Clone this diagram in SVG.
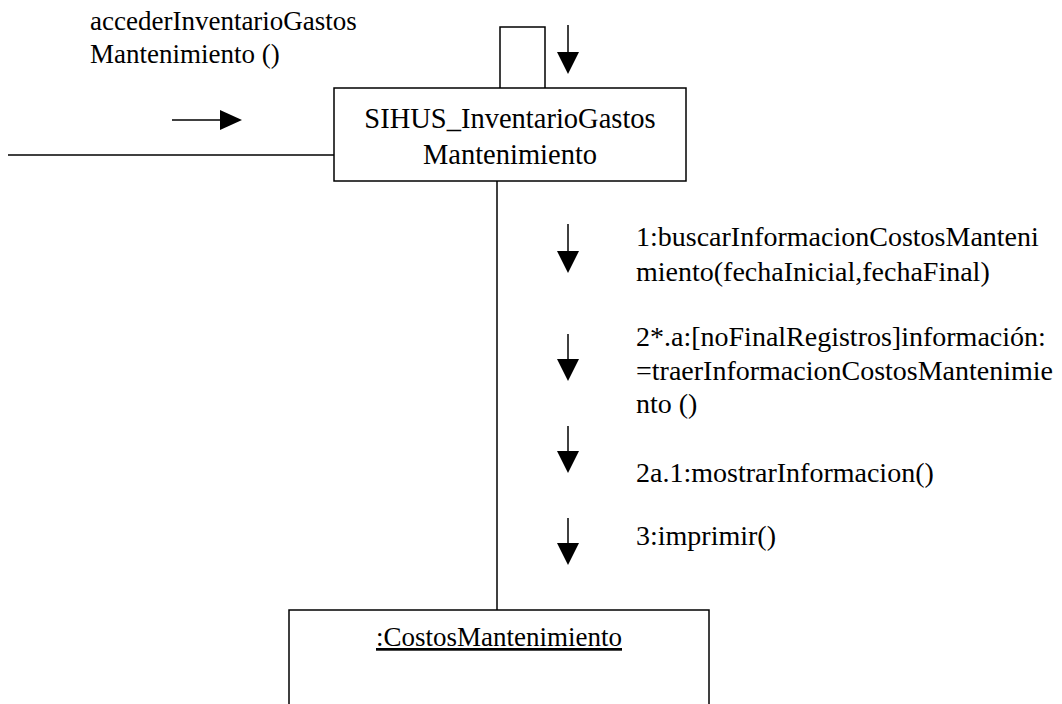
<svg xmlns="http://www.w3.org/2000/svg" width="1062" height="704" viewBox="0 0 1062 704">
<rect width="1062" height="704" fill="#fff"/>
<g id="connectors" stroke="#000" stroke-width="1.5" fill="none">
<line x1="8" y1="155" x2="334" y2="155"/>
<polyline points="500,88 500,27 545,27 545,88"/>
<line x1="497" y1="181" x2="497" y2="610"/>
</g>
<g id="messages">
<g stroke="#000" stroke-width="1.5">
<line x1="172" y1="120" x2="222" y2="120"/>
<line x1="568" y1="25" x2="568" y2="52"/>
<line x1="568" y1="224" x2="568" y2="251"/>
<line x1="568" y1="334" x2="568" y2="359"/>
<line x1="568" y1="426" x2="568" y2="451"/>
<line x1="568" y1="518" x2="568" y2="543"/>
</g>
<g fill="#000">
<polygon points="220,110 242,120 220,130"/>
<polygon points="557,52 579,52 568,74"/>
<polygon points="557,251 579,251 568,273"/>
<polygon points="557,359 579,359 568,381"/>
<polygon points="557,451 579,451 568,473"/>
<polygon points="557,543 579,543 568,565"/>
</g>
<text x="90" y="30" font-family="'Liberation Serif', 'Times New Roman', serif" font-size="27">accederInventarioGastos</text>
<text x="90" y="63" font-family="'Liberation Serif', 'Times New Roman', serif" font-size="27">Mantenimiento ()</text>
<text x="636" y="246" font-family="'Liberation Serif', 'Times New Roman', serif" font-size="28">1:buscarInformacionCostosManteni</text>
<text x="636" y="281" font-family="'Liberation Serif', 'Times New Roman', serif" font-size="28">miento(fechaInicial,fechaFinal)</text>
<text x="636" y="346" font-family="'Liberation Serif', 'Times New Roman', serif" font-size="28">2*.a:[noFinalRegistros]informaci&#243;n:</text>
<text x="636" y="380" font-family="'Liberation Serif', 'Times New Roman', serif" font-size="28">=traerInformacionCostosMantenimie</text>
<text x="636" y="413" font-family="'Liberation Serif', 'Times New Roman', serif" font-size="28">nto ()</text>
<text x="636" y="482" font-family="'Liberation Serif', 'Times New Roman', serif" font-size="28">2a.1:mostrarInformacion()</text>
<text x="636" y="545" font-family="'Liberation Serif', 'Times New Roman', serif" font-size="28">3:imprimir()</text>
</g>
<g id="node-sihus">
<rect x="334" y="88" width="352" height="93" fill="#fff" stroke="#000" stroke-width="1.5"/>
<text x="510" y="128" text-anchor="middle" font-family="'Liberation Serif', 'Times New Roman', serif" font-size="28.5">SIHUS_InventarioGastos</text>
<text x="510" y="164" text-anchor="middle" font-family="'Liberation Serif', 'Times New Roman', serif" font-size="28.5">Mantenimiento</text>
</g>
<g id="node-costos">
<rect x="289" y="610" width="420" height="100" fill="#fff" stroke="#000" stroke-width="1.5"/>
<text x="499" y="646" text-anchor="middle" text-decoration="underline" font-family="'Liberation Serif', 'Times New Roman', serif" font-size="27">:CostosMantenimiento</text>
</g>
</svg>
